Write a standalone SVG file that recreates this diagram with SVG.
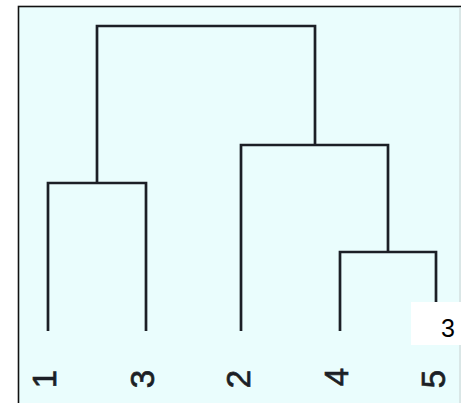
<svg xmlns="http://www.w3.org/2000/svg" width="461" height="403" viewBox="0 0 461 403">
  <style>
    .link { fill: none; stroke: #1c1f26; stroke-width: 2.7; stroke-linejoin: miter; stroke-linecap: butt; }
    .leaf { font-family: "Liberation Sans", Arial, sans-serif; font-size: 33px; fill: #1c1f26; stroke: #1c1f26; stroke-width: 0.7; text-anchor: middle; }
    .tag { font-family: "Liberation Sans", Arial, sans-serif; font-size: 25px; fill: #000; text-anchor: end; }
  </style>
  <rect x="0" y="0" width="461" height="403" fill="#ffffff"/>
  <g id="plot-frame">
    <rect x="18.5" y="6.5" width="460" height="400" fill="#eafdfd" stroke="#111" stroke-width="1.6"/>
    <line x1="460" y1="7" x2="460" y2="403" stroke="#c8d0d0" stroke-width="1"/>
  </g>
  <g id="connectors">
    <path class="link" d="M97,183 V26 H315 V145"/>
    <path class="link" d="M48,331 V183 H146 V331"/>
    <path class="link" d="M241,331 V145 H388 V252"/>
    <path class="link" d="M340,331 V252 H436 V331"/>
  </g>
  <g id="leaf-1"><text class="leaf" transform="translate(56,379) rotate(-90)">1</text></g>
  <g id="leaf-3"><text class="leaf" transform="translate(154,379) rotate(-90)">3</text></g>
  <g id="leaf-2"><text class="leaf" transform="translate(250,379) rotate(-90)">2</text></g>
  <g id="leaf-4"><text class="leaf" transform="translate(348,377) rotate(-90)">4</text></g>
  <g id="leaf-5"><text class="leaf" transform="translate(445,379) rotate(-90)">5</text></g>
  <g id="badge">
    <rect x="411" y="302" width="50" height="43" fill="#ffffff"/>
    <text class="tag" x="455" y="337">3</text>
  </g>
</svg>
